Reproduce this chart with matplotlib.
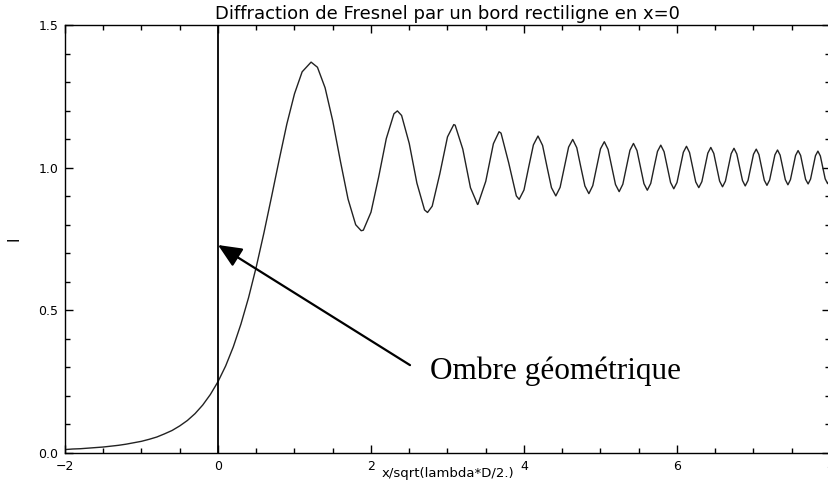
import matplotlib
matplotlib.use('Agg')
import matplotlib.pyplot as plt
from matplotlib.ticker import MultipleLocator

# intensity, x in units of sqrt(lambda*D/2)
x_pos = [-2.0, -1.9, -1.8, -1.7, -1.6, -1.5, -1.4, -1.3, -1.2, -1.1,
         -1.0, -0.9, -0.8, -0.7, -0.6, -0.5, -0.4, -0.3, -0.2, -0.1,
         0.0, 0.1, 0.2, 0.3, 0.4, 0.5, 0.6, 0.7, 0.8, 0.9,
         1.0, 1.1, 1.217, 1.3, 1.4, 1.5, 1.6, 1.7, 1.8, 1.872,
         1.9, 2.0, 2.1, 2.2, 2.3, 2.345, 2.4, 2.5, 2.6, 2.7,
         2.739, 2.8, 2.9, 3.0, 3.082, 3.1, 3.2, 3.3, 3.393, 3.4,
         3.5, 3.6, 3.674, 3.7, 3.8, 3.9, 3.937, 4.0,
         4.062, 4.123, 4.183, 4.243, 4.301, 4.359, 4.416, 4.472,
         4.528, 4.583, 4.637, 4.690, 4.743, 4.796, 4.848, 4.899,
         4.950, 5.000, 5.050, 5.099, 5.148, 5.196, 5.244, 5.292,
         5.339, 5.385, 5.431, 5.477, 5.523, 5.568, 5.612, 5.657,
         5.701, 5.745, 5.788, 5.831, 5.874, 5.916, 5.958, 6.000,
         6.042, 6.083, 6.124, 6.164, 6.205, 6.245, 6.285, 6.325,
         6.364, 6.403, 6.442, 6.481, 6.519, 6.557, 6.595, 6.633,
         6.671, 6.708, 6.745, 6.782, 6.819, 6.856, 6.892, 6.928,
         6.964, 7.000, 7.036, 7.071, 7.106, 7.141, 7.176, 7.211,
         7.246, 7.280, 7.314, 7.348, 7.382, 7.416, 7.450, 7.483,
         7.517, 7.550, 7.583, 7.616, 7.649, 7.681, 7.714, 7.746,
         7.778, 7.810, 7.842, 7.874, 7.906, 7.937, 7.969, 8.000,
         8.031]
intensity = [0.012, 0.014, 0.015, 0.017, 0.019, 0.021, 0.024, 0.027, 0.031, 0.036,
             0.041, 0.048, 0.056, 0.067, 0.079, 0.095, 0.114, 0.138, 0.168, 0.205,
             0.250, 0.305, 0.372, 0.452, 0.545, 0.652, 0.771, 0.898, 1.028, 1.153,
             1.259, 1.336, 1.370, 1.352, 1.280, 1.164, 1.023, 0.890, 0.800, 0.779,
             0.781, 0.844, 0.967, 1.102, 1.189, 1.199, 1.183, 1.085, 0.946, 0.852,
             0.843, 0.865, 0.979, 1.108, 1.151, 1.149, 1.065, 0.930, 0.871, 0.873,
             0.952, 1.084, 1.126, 1.121, 1.017, 0.901, 0.889, 0.922,
             1.003, 1.080, 1.111, 1.078, 1.003, 0.930, 0.901, 0.931,
             1.002, 1.072, 1.099, 1.070, 1.002, 0.936, 0.909, 0.937,
             1.002, 1.066, 1.091, 1.064, 1.002, 0.941, 0.916, 0.942,
             1.002, 1.061, 1.085, 1.060, 1.002, 0.944, 0.921, 0.945,
             1.002, 1.057, 1.079, 1.056, 1.001, 0.948, 0.926, 0.948,
             1.001, 1.054, 1.075, 1.053, 1.001, 0.950, 0.930, 0.951,
             1.001, 1.051, 1.071, 1.050, 1.001, 0.953, 0.933, 0.953,
             1.001, 1.049, 1.068, 1.048, 1.001, 0.955, 0.936, 0.955,
             1.001, 1.047, 1.065, 1.046, 1.001, 0.956, 0.938, 0.957,
             1.001, 1.045, 1.062, 1.044, 1.001, 0.958, 0.940, 0.958,
             1.001, 1.043, 1.060, 1.043, 1.001, 0.959, 0.943, 0.960,
             1.001, 1.042, 1.058, 1.041, 1.001, 0.961, 0.944, 0.961,
             1.001]

x_ticks = [-2, 0, 2, 4, 6, 8]
x_tick_labels = ['\u22122', '0', '2', '4', '6', '8']
y_ticks = [0.0, 0.5, 1.0, 1.5]
y_tick_labels = ['0.0', '0.5', '1.0', '1.5']

title = 'Diffraction de Fresnel par un bord rectiligne en x=0'
x_label = 'x/sqrt(lambda*D/2.)'
y_label = 'I'
note = 'Ombre géométrique'
arrow_tip = (0.0, 0.729)
arrow_tail = (2.51, 0.308)

fig = plt.figure(figsize=(8.29, 4.83), dpi=100)
ax = fig.add_axes([0.0784, 0.0621, 0.9228, 0.8861])

ax.plot(x_pos, intensity, color='#222222', lw=1.0)
ax.axvline(0.0, color='black', lw=1.3)

ax.annotate('', xy=arrow_tip, xytext=arrow_tail,
            arrowprops=dict(arrowstyle='-|>,head_length=0.9,head_width=0.4',
                            mutation_scale=16, lw=1.6, color='black',
                            shrinkA=0, shrinkB=0))
ax.text(2.77, 0.259, note, family='Liberation Serif', fontsize=22.5,
        va='baseline', ha='left')

ax.set_xlim(-2, 8)
ax.set_ylim(0, 1.5)
ax.set_xticks(x_ticks)
ax.set_yticks(y_ticks)
ax.set_xticklabels(x_tick_labels)
ax.set_yticklabels(y_tick_labels)
ax.xaxis.set_minor_locator(MultipleLocator(0.5))
ax.yaxis.set_minor_locator(MultipleLocator(0.1))
ax.tick_params(which='both', direction='in', top=True, right=True,
               labelsize=9, width=1.0)
ax.tick_params(which='major', length=6, pad=5)
ax.tick_params(which='minor', length=3.6)
for s in ax.spines.values():
    s.set_linewidth(1.0)

ax.set_title(title, fontsize=13, pad=4)
ax.set_xlabel(x_label, fontsize=9.5)
ax.xaxis.set_label_coords(0.5, -0.047)
ax.xaxis.label.set_va('center')
ax.set_ylabel(y_label, fontsize=11)
ax.yaxis.set_label_coords(-0.067, 0.5)
ax.yaxis.label.set_va('center')

fig.savefig('out.png', dpi=100)
